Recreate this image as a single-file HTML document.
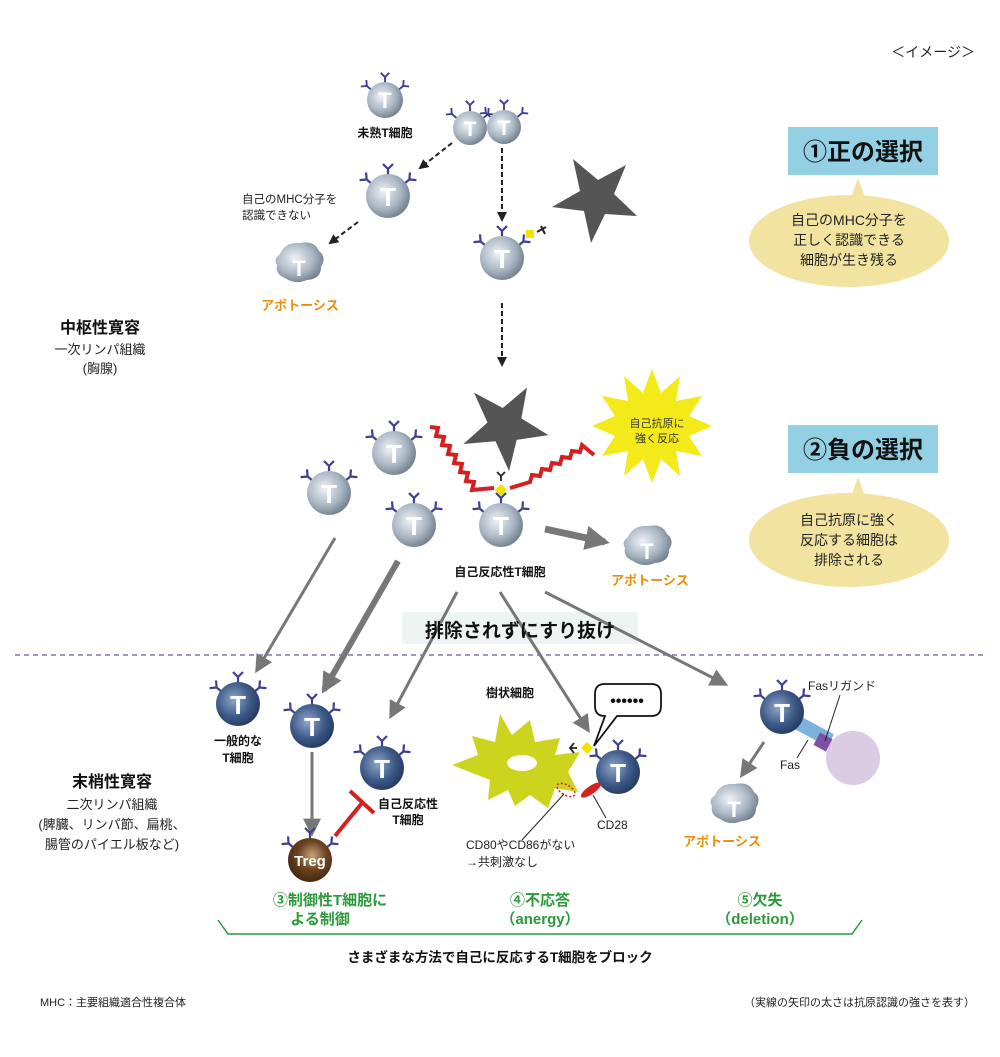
<!DOCTYPE html>
<html><head><meta charset="utf-8"><style>
body{margin:0;background:#fff}
svg{display:block}
text{font-family:"Liberation Sans","Noto Sans CJK JP",sans-serif}
</style></head><body>
<svg width="1000" height="1057" viewBox="0 0 1000 1057" xmlns="http://www.w3.org/2000/svg">
<defs>
<radialGradient id="lg" cx="0.4" cy="0.4" r="0.65"><stop offset="0" stop-color="#eef2f6"/><stop offset="0.6" stop-color="#a9b6c3"/><stop offset="1" stop-color="#6e7c8a"/></radialGradient>
<radialGradient id="dg" cx="0.4" cy="0.4" r="0.65"><stop offset="0" stop-color="#8fa6c8"/><stop offset="0.6" stop-color="#3d5a88"/><stop offset="1" stop-color="#22375e"/></radialGradient>
<radialGradient id="bg" cx="0.55" cy="0.4" r="0.65"><stop offset="0" stop-color="#c9a27a"/><stop offset="0.5" stop-color="#6b4320"/><stop offset="1" stop-color="#3d2410"/></radialGradient>
<g id="y"><path d="M0 0 V-7 M0 -7 L-5 -12 M0 -7 L5 -12" stroke="#3e3e94" stroke-width="2.2" fill="none"/></g>
<g id="rc">
<use href="#y" transform="translate(0,-20)"/>
<use href="#y" transform="translate(-16,-12) rotate(-50)"/>
<use href="#y" transform="translate(16,-12) rotate(50)"/>
</g>
<polygon id="star" points="565,159 590,180 618,165 606,194 629,216 597,214 583,243 576,211 544,207 572,191" />
<marker id="ab" viewBox="0 0 10 10" refX="8" refY="5" markerWidth="5" markerHeight="5" orient="auto"><path d="M0 0 L10 5 L0 10z" fill="#222"/></marker>
<marker id="ag" viewBox="0 0 10 10" refX="8" refY="5" markerWidth="6" markerHeight="6" orient="auto"><path d="M0 0 L10 5 L0 10z" fill="#777"/></marker>
<marker id="ag2" viewBox="0 0 10 10" refX="8" refY="5" markerWidth="3.5" markerHeight="3.5" orient="auto"><path d="M0 0 L10 5 L0 10z" fill="#777"/></marker>
</defs>

<text x="975" y="57" font-size="14" text-anchor="end" fill="#222">＜イメージ＞</text>

<g transform="translate(385,100)"><use href="#rc" transform="scale(0.85)"/><circle r="18" fill="url(#lg)"/><text y="8" font-size="22" font-weight="bold" fill="#fff" text-anchor="middle">T</text></g>
<text x="385" y="137" font-size="12" font-weight="bold" text-anchor="middle" fill="#111">未熟T細胞</text>
<g transform="translate(470,128)"><use href="#rc" transform="scale(0.85)"/><circle r="17" fill="url(#lg)"/><text y="8" font-size="21" font-weight="bold" fill="#fff" text-anchor="middle">T</text></g>
<g transform="translate(504,127)"><use href="#rc" transform="scale(0.85)"/><circle r="17" fill="url(#lg)"/><text y="8" font-size="21" font-weight="bold" fill="#fff" text-anchor="middle">T</text></g>
<g transform="translate(388,196)"><use href="#rc"/><circle r="22" fill="url(#lg)"/><text y="10" font-size="26" font-weight="bold" fill="#fff" text-anchor="middle">T</text></g>
<text x="242" y="203" font-size="11.5" fill="#222">自己のMHC分子を</text>
<text x="242" y="219" font-size="11.5" fill="#222">認識できない</text>
<path d="M280 254 q5 -12 20 -11 q14 -3 19 8 q8 6 2 16 q0 12 -14 13 q-12 5 -22 -2 q-10 -4 -8 -13 q-4 -6 3 -11z" fill="url(#lg)"/>
<text x="299" y="276" font-size="22" font-weight="bold" fill="#fff" text-anchor="middle">T</text>
<text x="300" y="310" font-size="13" font-weight="bold" fill="#e8900c" text-anchor="middle">アポトーシス</text>
<g transform="translate(502,258)"><use href="#rc"/><circle r="22" fill="url(#lg)"/><text y="10" font-size="26" font-weight="bold" fill="#fff" text-anchor="middle">T</text></g>
<rect x="526" y="230" width="8" height="8" fill="#f2e400"/>
<path d="M537 232 l9 -5 M541 226 l4 8" stroke="#222" stroke-width="2"/>
<use href="#star" fill="#555" transform="translate(8,0) scale(1.0)"/>
<g stroke="#222" stroke-width="2" stroke-dasharray="5,3" fill="none" marker-end="url(#ab)">
<line x1="452" y1="143" x2="420" y2="168"/>
<line x1="502" y1="148" x2="502" y2="220"/>
<line x1="358" y1="222" x2="330" y2="243"/>
<line x1="502" y1="303" x2="502" y2="365"/>
</g>

<rect x="788" y="127" width="150" height="48" fill="#93d0e3"/>
<text x="863" y="160" font-size="24" font-weight="bold" text-anchor="middle" fill="#111">①正の選択</text>
<polygon points="858,178 848,205 868,205" fill="#f2e4a0"/>
<ellipse cx="849" cy="241" rx="100" ry="46" fill="#f2e4a0"/>
<text x="849" y="225" font-size="14" text-anchor="middle" fill="#222">自己のMHC分子を</text>
<text x="849" y="245" font-size="14" text-anchor="middle" fill="#222">正しく認識できる</text>
<text x="849" y="265" font-size="14" text-anchor="middle" fill="#222">細胞が生き残る</text>
<rect x="788" y="425" width="150" height="48" fill="#93d0e3"/>
<text x="863" y="458" font-size="24" font-weight="bold" text-anchor="middle" fill="#111">②負の選択</text>
<polygon points="858,477 848,505 868,505" fill="#f2e4a0"/>
<ellipse cx="849" cy="540" rx="100" ry="47" fill="#f2e4a0"/>
<text x="849" y="525" font-size="14" text-anchor="middle" fill="#222">自己抗原に強く</text>
<text x="849" y="545" font-size="14" text-anchor="middle" fill="#222">反応する細胞は</text>
<text x="849" y="565" font-size="14" text-anchor="middle" fill="#222">排除される</text>

<text x="100" y="333" font-size="16" font-weight="bold" text-anchor="middle" fill="#111">中枢性寛容</text>
<text x="100" y="354" font-size="13" text-anchor="middle" fill="#222">一次リンパ組織</text>
<text x="100" y="373" font-size="13" text-anchor="middle" fill="#222">(胸腺)</text>
<text x="112" y="787" font-size="16" font-weight="bold" text-anchor="middle" fill="#111">末梢性寛容</text>
<text x="112" y="809" font-size="13" text-anchor="middle" fill="#222">二次リンパ組織</text>
<text x="112" y="829" font-size="13" text-anchor="middle" fill="#222">(脾臓、リンパ節、扁桃、</text>
<text x="112" y="849" font-size="13" text-anchor="middle" fill="#222">腸管のパイエル板など)</text>

<use href="#star" fill="#555" transform="translate(505,428) rotate(-12) translate(-588,-200)"/>
<polygon points="0,-57 9,-33 28,-50 24,-25 50,-30 37,-10 60,0 37,10 50,30 24,25 28,50 9,33 0,57 -9,33 -28,50 -24,25 -50,30 -37,10 -60,0 -37,-10 -50,-30 -24,-25 -28,-50 -9,-33" transform="translate(652,426)" fill="#f4ea1a"/>
<text x="657" y="427" font-size="11" text-anchor="middle" fill="#333">自己抗原に</text>
<text x="657" y="442" font-size="11" text-anchor="middle" fill="#333">強く反応</text>
<polyline points="430,427 438,428 436,436 444,437 442,445 450,446 448,454 456,455 454,463 462,464 460,472 468,473 466,481 474,482 472,490 494,488" fill="none" stroke="#d42020" stroke-width="4"/>
<polyline points="510,488 530,482 532,475 540,476 542,469 550,470 552,463 560,464 562,457 570,458 572,451 580,452 582,445 594,455" fill="none" stroke="#d42020" stroke-width="4"/>
<path d="M501 476 v5 M497 472 l4 4 4 -4" stroke="#222" stroke-width="1.8" fill="none"/>
<polygon points="501,484 507,490 501,496 495,490" fill="#f2e400"/>
<g transform="translate(394,453)"><use href="#rc"/><circle r="22" fill="url(#lg)"/><text y="10" font-size="26" font-weight="bold" fill="#fff" text-anchor="middle">T</text></g>
<g transform="translate(329,493)"><use href="#rc"/><circle r="22" fill="url(#lg)"/><text y="10" font-size="26" font-weight="bold" fill="#fff" text-anchor="middle">T</text></g>
<g transform="translate(414,525)"><use href="#rc"/><circle r="22" fill="url(#lg)"/><text y="10" font-size="26" font-weight="bold" fill="#fff" text-anchor="middle">T</text></g>
<g transform="translate(501,525)"><use href="#rc"/><circle r="22" fill="url(#lg)"/><text y="10" font-size="26" font-weight="bold" fill="#fff" text-anchor="middle">T</text></g>
<text x="500" y="576" font-size="12" font-weight="bold" text-anchor="middle" fill="#111">自己反応性T細胞</text>
<line x1="545" y1="529" x2="605" y2="542" stroke="#777" stroke-width="7" marker-end="url(#ag2)"/>
<path d="M628 537 q5 -12 20 -11 q14 -3 19 8 q8 6 2 16 q0 12 -14 13 q-12 5 -22 -2 q-10 -4 -8 -13 q-4 -6 3 -11z" fill="url(#lg)"/>
<text x="647" y="559" font-size="22" font-weight="bold" fill="#fff" text-anchor="middle">T</text>
<text x="650" y="585" font-size="13" font-weight="bold" fill="#e8900c" text-anchor="middle">アポトーシス</text>

<rect x="402" y="612" width="236" height="32" fill="#edf4f1"/>
<g stroke="#777" fill="none">
<line x1="335" y1="538" x2="257" y2="670" stroke-width="3" marker-end="url(#ag)"/>
<line x1="398" y1="561" x2="324" y2="690" stroke-width="6" marker-end="url(#ag2)"/>
<line x1="457" y1="592" x2="391" y2="716" stroke-width="3" marker-end="url(#ag)"/>
<line x1="500" y1="592" x2="588" y2="730" stroke-width="3" marker-end="url(#ag)"/>
<line x1="545" y1="592" x2="725" y2="684" stroke-width="3" marker-end="url(#ag)"/>
<line x1="312" y1="752" x2="312" y2="833" stroke-width="3" marker-end="url(#ag)"/>
<line x1="764" y1="742" x2="742" y2="775" stroke-width="3" marker-end="url(#ag)"/>
</g>
<text x="520" y="637" font-size="19" font-weight="bold" text-anchor="middle" fill="#111">排除されずにすり抜け</text>
<line x1="15" y1="655" x2="985" y2="655" stroke="#8a72a8" stroke-width="1.5" stroke-dasharray="5,4"/>

<g transform="translate(238,704)"><use href="#rc"/><circle r="22" fill="url(#dg)"/><text y="10" font-size="26" font-weight="bold" fill="#fff" text-anchor="middle">T</text></g>
<text x="238" y="745" font-size="12" font-weight="bold" text-anchor="middle" fill="#111">一般的な</text>
<text x="238" y="762" font-size="12" font-weight="bold" text-anchor="middle" fill="#111">T細胞</text>
<g transform="translate(312,726)"><use href="#rc"/><circle r="22" fill="url(#dg)"/><text y="10" font-size="26" font-weight="bold" fill="#fff" text-anchor="middle">T</text></g>
<g transform="translate(382,768)"><use href="#rc"/><circle r="22" fill="url(#dg)"/><text y="10" font-size="26" font-weight="bold" fill="#fff" text-anchor="middle">T</text></g>
<text x="408" y="808" font-size="12" font-weight="bold" text-anchor="middle" fill="#111">自己反応性</text>
<text x="408" y="824" font-size="12" font-weight="bold" text-anchor="middle" fill="#111">T細胞</text>
<g transform="translate(310,860)"><use href="#rc"/><circle r="22" fill="url(#bg)"/><text y="6" font-size="15" font-weight="bold" fill="#fff" text-anchor="middle">Treg</text></g>
<line x1="335" y1="836" x2="362" y2="803" stroke="#d42020" stroke-width="4"/>
<line x1="350" y1="791" x2="374" y2="813" stroke="#d42020" stroke-width="4"/>

<text x="510" y="697" font-size="12" font-weight="bold" text-anchor="middle" fill="#111">樹状細胞</text>
<polygon points="500,714 512,735 530,720 535,742 560,738 555,755 580,752 568,772 578,792 555,788 548,808 530,795 515,806 508,790 488,800 490,780 452,765 478,755 472,736 495,742" fill="#cdd41e"/>
<ellipse cx="522" cy="763" rx="15" ry="8" fill="#fff"/>
<ellipse cx="566" cy="790" rx="10" ry="5" fill="none" stroke="#d42020" stroke-width="1.5" stroke-dasharray="2,2" transform="rotate(30 566 790)"/>
<path d="M571 748 l6 0 M574 743 l-4 5 4 5" stroke="#222" stroke-width="1.8" fill="none"/>
<polygon points="587,742 593,748 587,754 581,748" fill="#f2e400"/>
<path d="M605 684 h46 q10 0 10 10 v12 q0 10 -10 10 h-34 l-23 30 l11 -30 q-10 0 -10 -10 v-12 q0 -10 10 -10z" fill="#fff" stroke="#111" stroke-width="1.8"/>
<text x="627" y="706" font-size="16" font-weight="bold" text-anchor="middle" fill="#111">••••••</text>
<g transform="translate(618,772)"><use href="#rc"/><circle r="22" fill="url(#dg)"/><text y="10" font-size="26" font-weight="bold" fill="#fff" text-anchor="middle">T</text></g>
<ellipse cx="591" cy="790" rx="12" ry="4" fill="#d42020" transform="rotate(-35 591 790)"/>
<line x1="593" y1="795" x2="606" y2="818" stroke="#222"/>
<line x1="564" y1="794" x2="522" y2="840" stroke="#222"/>
<text x="597" y="829" font-size="12" fill="#222">CD28</text>
<text x="466" y="849" font-size="12" fill="#222">CD80やCD86がない</text>
<text x="466" y="866" font-size="12" fill="#222">→共刺激なし</text>

<circle cx="853" cy="758" r="27" fill="#dccbe4"/>
<rect x="793" y="724" width="40" height="14" fill="#7fb1dd" transform="rotate(28 813 731)"/>
<rect x="816" y="735" width="14" height="14" fill="#7e4fa6" transform="rotate(28 823 742)"/>
<g transform="translate(782,712)"><use href="#rc"/><circle r="22" fill="url(#dg)"/><text y="10" font-size="26" font-weight="bold" fill="#fff" text-anchor="middle">T</text></g>
<line x1="825" y1="741" x2="840" y2="695" stroke="#222"/>
<line x1="808" y1="740" x2="797" y2="758" stroke="#222"/>
<text x="842" y="690" font-size="12" text-anchor="middle" fill="#222">Fasリガンド</text>
<text x="790" y="769" font-size="12" text-anchor="middle" fill="#222">Fas</text>
<path d="M715 795 q5 -12 20 -11 q14 -3 19 8 q8 6 2 16 q0 12 -14 13 q-12 5 -22 -2 q-10 -4 -8 -13 q-4 -6 3 -11z" fill="url(#lg)"/>
<text x="734" y="817" font-size="22" font-weight="bold" fill="#fff" text-anchor="middle">T</text>
<text x="722" y="846" font-size="13" font-weight="bold" fill="#e8900c" text-anchor="middle">アポトーシス</text>

<g font-size="15" font-weight="bold" fill="#2a9a3a" text-anchor="middle">
<text x="330" y="905">③制御性T細胞に</text>
<text x="320" y="924">よる制御</text>
<text x="540" y="905">④不応答</text>
<text x="540" y="924">（anergy）</text>
<text x="760" y="905">⑤欠失</text>
<text x="760" y="924">（deletion）</text>
</g>
<path d="M218 920 L228 934 H852 L862 920" fill="none" stroke="#2a9a3a" stroke-width="1.5"/>
<text x="500" y="962" font-size="13.5" font-weight="bold" text-anchor="middle" fill="#111">さまざまな方法で自己に反応するT細胞をブロック</text>
<text x="40" y="1006" font-size="11" fill="#222">MHC：主要組織適合性複合体</text>
<text x="975" y="1006" font-size="11" text-anchor="end" fill="#222">（実線の矢印の太さは抗原認識の強さを表す）</text>
</svg>
</body></html>
